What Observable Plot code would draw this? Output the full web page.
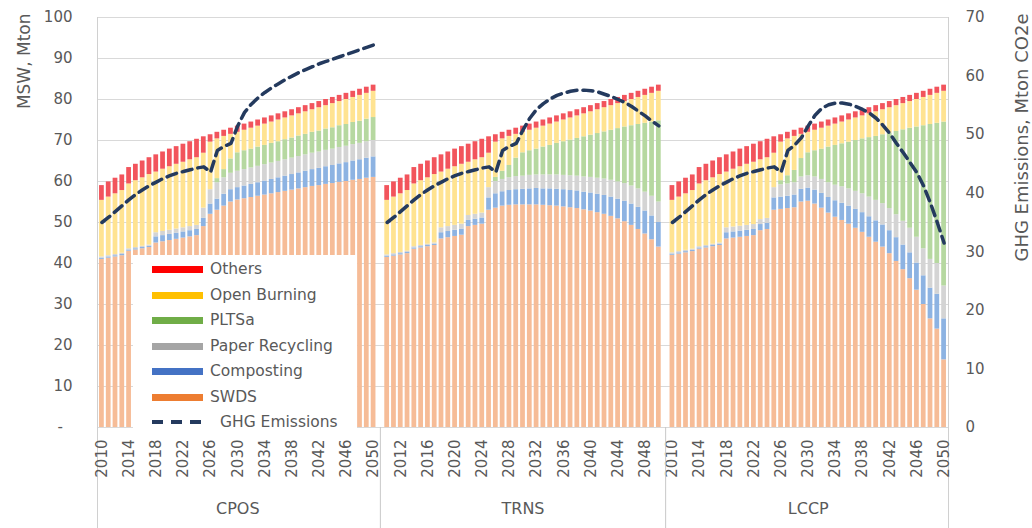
<!DOCTYPE html>
<html>
<head>
<meta charset="utf-8">
<script src="https://cdn.jsdelivr.net/npm/d3@7"></script>
<script src="https://cdn.jsdelivr.net/npm/@observablehq/plot@0.6"></script>
<style>
  html, body { margin: 0; padding: 0; background: #fff; }
  #wrap { position: relative; width: 1032px; height: 528px; }
  #legend { position: absolute; left: 133px; top: 255px; width: 224px; height: 174px; background: #fff;
            font-family: "DejaVu Sans", sans-serif; font-size: 15.5px; color: #595959; }
  .row { position: absolute; left: 0; height: 20px; display: flex; align-items: center; }
  .sw { width: 51px; height: 7px; margin-left: 19px; margin-right: 7px; }
</style>
</head>
<body>
<div id="wrap"><div id="legend"></div></div>
<script>
// ---------- categories ----------
const scenarios = ["CPOS", "TRNS", "LCCP"];
const years = d3.range(2010, 2051);
const types = ["SWDS", "Composting", "Paper Recycling", "PLTSa", "Open Burning", "Others"];
const leftTicks = [0, 10, 20, 30, 40, 50, 60, 70, 80, 90, 100];
const rightTicks = [0, 10, 20, 30, 40, 50, 60, 70];

// ---------- shared ----------
const others = [3.6,3.7,3.8,3.8,4.0,4.0,4.1,4.1,4.2,4.2,4.3,4.3,4.4,4.4,4.5,4.0,1.8,1.6,1.5,1.5,1.5,1.5,1.5,1.5,1.5,1.5,1.5,1.5,1.5,1.5,1.5,1.5,1.5,1.5,1.5,1.5,1.5,1.5,1.5,1.5,1.5];

// ---------- CPOS ----------
const cposSWDS = [41.0,41.3,41.6,41.9,43.0,43.3,43.6,43.9,45.0,45.3,45.6,45.9,46.2,46.5,46.8,49.0,52.0,53.0,54.0,55.0,55.5,55.8,56.1,56.4,56.7,57.0,57.3,57.6,57.9,58.2,58.5,58.8,59.0,59.3,59.5,59.8,60.0,60.3,60.5,60.8,61.0];
const cposComposting = [0.3,0.3,0.3,0.3,0.3,0.3,0.3,0.3,1.5,1.5,1.5,1.5,1.5,1.5,1.5,2.0,2.5,2.7,2.9,3.0,3.0,3.1,3.2,3.3,3.4,3.5,3.6,3.7,3.8,3.9,4.0,4.1,4.2,4.3,4.4,4.5,4.6,4.7,4.8,4.9,5.0];
const cposPaper = [0.3,0.3,0.3,0.3,0.3,0.3,0.3,0.3,1.0,1.0,1.0,1.0,1.0,1.0,1.0,2.5,3.5,4.0,4.0,4.0,4.0,4.0,4.0,4.0,4.0,4.0,4.0,4.0,4.0,4.0,4.0,4.0,4.0,4.0,4.0,4.0,4.0,4.0,4.0,4.0,4.0];
const cposPLTSa = [0,0,0,0,0,0,0,0,0,0,0,0,0,0,0,0,0,1.0,2.0,3.5,4.5,4.6,4.6,4.7,4.7,4.8,4.8,4.9,4.9,5.0,5.0,5.1,5.1,5.2,5.2,5.3,5.3,5.4,5.4,5.5,5.6];
const cposOpenBurning = [13.8,14.3,14.8,15.3,15.8,16.3,16.7,17.2,14.8,15.2,15.5,15.8,16.0,16.3,16.5,13.4,11.6,9.7,8.1,6.0,5.0,5.0,5.1,5.1,5.2,5.2,5.3,5.3,5.4,5.4,5.5,5.5,5.7,5.7,5.9,5.9,6.1,6.1,6.3,6.3,6.4];
const cposGHG = [35.0,35.9,36.9,37.9,38.9,39.8,40.6,41.3,41.9,42.5,43.0,43.4,43.7,44.0,44.3,44.5,43.6,47.3,48.0,48.5,51.5,53.8,55.2,56.3,57.2,58.0,58.7,59.4,60.0,60.6,61.1,61.6,62.1,62.5,62.9,63.3,63.7,64.1,64.5,64.9,65.3];

// ---------- TRNS ----------
const trnsSWDS = [41.5,41.8,42.1,42.4,43.5,43.8,44.1,44.4,46.0,46.3,46.6,46.9,49.0,49.3,49.6,53.0,53.5,54.0,54.2,54.3,54.3,54.3,54.3,54.2,54.1,54.0,53.8,53.6,53.4,53.1,52.8,52.4,52.0,51.5,50.9,50.2,49.3,48.3,47.2,45.8,44.0];
const trnsComposting = [0.3,0.3,0.3,0.3,0.3,0.3,0.3,0.3,1.5,1.5,1.5,1.5,1.5,1.5,1.5,3.0,3.5,3.5,3.6,3.7,3.8,3.9,4.0,4.0,4.1,4.1,4.2,4.2,4.3,4.3,4.4,4.5,4.6,4.7,4.8,5.0,5.2,5.4,5.6,5.8,6.0];
const trnsPaper = [0.3,0.3,0.3,0.3,0.3,0.3,0.3,0.3,1.2,1.2,1.2,1.2,1.2,1.2,1.2,2.5,3.0,3.0,3.1,3.2,3.2,3.3,3.3,3.4,3.4,3.5,3.5,3.6,3.6,3.7,3.8,3.9,4.0,4.1,4.2,4.3,4.4,4.5,4.6,4.8,5.0];
const trnsPLTSa = [0,0,0,0,0,0,0,0,0,0,0,0,0,0,0,0,1.0,2.0,3.0,4.5,5.7,6.0,6.3,6.8,7.2,7.7,8.2,8.7,9.2,9.8,10.3,10.9,11.5,12.2,13.0,13.8,14.7,15.7,16.8,18.1,19.8];
const trnsOpenBurning = [13.3,13.8,14.3,14.8,15.3,15.8,16.2,16.7,13.6,14.0,14.3,14.6,13.0,13.3,13.5,8.4,8.6,7.9,7.1,5.8,5.0,5.0,5.1,5.1,5.2,5.2,5.3,5.4,5.5,5.6,5.7,5.8,5.9,6.0,6.1,6.2,6.4,6.6,6.8,7.0,7.2];
const trnsGHG = [35.0,35.9,36.9,37.9,38.9,39.8,40.6,41.3,41.9,42.5,43.0,43.4,43.7,44.0,44.3,44.5,43.6,47.3,48.0,48.5,50.8,52.8,54.3,55.3,56.1,56.7,57.1,57.4,57.6,57.6,57.5,57.3,56.9,56.5,56.0,55.5,54.8,54.0,53.2,52.3,51.5];

// ---------- LCCP ----------
const lccpSWDS = [42.0,42.3,42.6,42.9,43.5,43.8,44.1,44.4,46.0,46.2,46.4,46.6,46.8,48.0,48.3,53.0,53.2,53.4,53.6,55.0,55.2,54.5,53.5,52.3,51.3,50.5,49.6,48.6,47.6,46.4,45.2,44.0,42.4,40.5,38.5,36.3,33.5,30.0,26.5,24.0,16.5];
const lccpComposting = [0.3,0.3,0.3,0.3,0.3,0.3,0.3,0.3,1.5,1.5,1.5,1.5,1.5,1.5,1.5,3.0,3.0,3.0,3.1,3.1,3.2,3.4,3.6,3.8,4.0,4.2,4.4,4.6,4.8,5.0,5.2,5.4,5.6,5.8,6.0,6.3,6.6,7.0,7.5,8.5,10.0];
const lccpPaper = [0.3,0.3,0.3,0.3,0.3,0.3,0.3,0.3,1.2,1.2,1.2,1.2,1.2,1.2,1.2,2.5,3.0,3.0,3.0,3.0,3.0,3.2,3.4,3.6,3.8,4.0,4.2,4.4,4.6,4.8,5.0,5.2,5.4,5.6,5.8,6.0,6.3,6.6,7.0,7.5,8.0];
const lccpPLTSa = [0,0,0,0,0,0,0,0,0,0,0,0,0,0,0,0,1.0,2.0,3.0,4.5,5.6,6.4,7.4,8.7,9.7,10.5,11.4,12.4,13.4,14.5,15.6,16.8,18.4,20.3,22.3,24.4,26.9,30.0,32.9,34.2,40.0];
const lccpOpenBurning = [12.8,13.3,13.8,14.3,15.3,15.8,16.2,16.7,13.6,14.1,14.5,14.9,15.2,14.6,14.8,8.4,9.4,9.0,8.3,5.9,5.0,5.0,5.1,5.1,5.2,5.3,5.4,5.5,5.6,5.8,6.0,6.1,6.2,6.3,6.4,6.5,6.7,6.9,7.1,7.3,7.5];
const lccpGHG = [35.0,35.9,36.9,37.9,38.9,39.8,40.6,41.3,41.9,42.5,43.0,43.4,43.7,44.0,44.3,44.5,43.6,47.3,48.2,49.5,51.5,53.3,54.5,55.1,55.4,55.4,55.2,54.8,54.3,53.7,52.8,51.6,50.2,48.5,46.9,45.2,43.5,41.2,38.3,35.0,31.5];

// ---------- assemble ----------
const series = {
  CPOS: {SWDS: cposSWDS, Composting: cposComposting, "Paper Recycling": cposPaper, PLTSa: cposPLTSa, "Open Burning": cposOpenBurning, Others: others},
  TRNS: {SWDS: trnsSWDS, Composting: trnsComposting, "Paper Recycling": trnsPaper, PLTSa: trnsPLTSa, "Open Burning": trnsOpenBurning, Others: others},
  LCCP: {SWDS: lccpSWDS, Composting: lccpComposting, "Paper Recycling": lccpPaper, PLTSa: lccpPLTSa, "Open Burning": lccpOpenBurning, Others: others}
};
const ghg = {CPOS: cposGHG, TRNS: trnsGHG, LCCP: lccpGHG};

const barColors = {SWDS: "#F6BC97", Composting: "#8DB3E2", "Paper Recycling": "#D4D4D4", PLTSa: "#B6D8A0", "Open Burning": "#FFE391", Others: "#F2545C"};
const legendColors = {SWDS: "#ED7D31", Composting: "#4472C4", "Paper Recycling": "#A5A5A5", PLTSa: "#70AD47", "Open Burning": "#FFC000", Others: "#FF0000"};
const lineColor = "#243A5E";

const keyOf = (s, y) => s + " " + y;
const domain = [];
const gapKeys = [];
scenarios.forEach((s, i) => {
  years.forEach(y => domain.push(keyOf(s, y)));
  if (i < scenarios.length - 1) { const g = "gap" + i; domain.push(g); gapKeys.push(g); }
});
const xTicks = domain.filter((k, i) => i % 4 === 0);

const bars = [];
scenarios.forEach(s => years.forEach((y, j) => types.forEach(t =>
  bars.push({key: keyOf(s, y), type: t, value: series[s][t][j]}))));
const lines = [];
scenarios.forEach(s => years.forEach((y, j) => lines.push({key: keyOf(s, y), scenario: s, ghg: ghg[s][j]})));

const toLeft = v => v * 100 / 70;   // right axis (0–70) onto the left scale (0–100)

const chart = Plot.plot({
  width: 1032, height: 528,
  marginLeft: 97, marginRight: 84, marginTop: 17, marginBottom: 101,
  style: {fontFamily: "DejaVu Sans, sans-serif", fontSize: "15px", color: "#595959", background: "#fff"},
  x: {type: "band", domain, padding: 0.3, label: null, axis: null},
  y: {domain: [0, 100], label: null, axis: null},
  marks: [
    Plot.gridY(leftTicks.slice(1), {stroke: "#D9D9D9", strokeOpacity: 1}),
    Plot.ruleY([0], {stroke: "#D9D9D9"}),
    Plot.barY(bars, {x: "key", y: "value", fill: d => barColors[d.type]}),
    Plot.line(lines, {x: "key", y: d => toLeft(d.ghg), z: "scenario", stroke: lineColor, strokeWidth: 3.5, strokeDasharray: "10,6"}),
    Plot.frame({anchor: "left", stroke: "#D0D0D0", insetBottom: -101}),
    Plot.frame({anchor: "right", stroke: "#D0D0D0", insetBottom: -101}),
    Plot.axisY({ticks: leftTicks, tickSize: 0, tickPadding: 25, label: null,
      tickFormat: d => d === 0 ? "-\u00a0\u00a0" : String(d)}),
    Plot.axisY({anchor: "right", ticks: rightTicks.map(toLeft), tickSize: 0, tickPadding: 17, label: null,
      tickFormat: d => String(Math.round(d * 70 / 100))}),
    Plot.axisX({ticks: xTicks, tickSize: 0, tickPadding: 12, tickRotate: -90, label: null,
      tickFormat: k => k.split(" ")[1]}),
    Plot.axisX({ticks: gapKeys, tickSize: 101, stroke: "#C8C8C8", tickFormat: () => "", label: null}),
    Plot.text(scenarios, {x: s => keyOf(s, 2030), frameAnchor: "bottom", dy: 86, text: d => d, fontSize: 16, fill: "#595959"}),
    Plot.text(["MSW, Mton"], {frameAnchor: "top-left", dx: -80, dy: -4, rotate: -90, textAnchor: "end", fontSize: 17, fill: "#595959"}),
    Plot.text(["GHG Emissions, Mton CO2e"], {frameAnchor: "top-right", dx: 67, dy: -4, rotate: -90, textAnchor: "end", fontSize: 18, fill: "#595959"})
  ]
});
const wrap = document.getElementById("wrap");
wrap.insertBefore(chart, wrap.firstChild);

// ---------- legend (overlaid inside the plot area, as in the reference) ----------
const legend = document.getElementById("legend");
const legendItems = types.slice().reverse();
const rowTops = [4, 30, 55, 81, 106, 132, 157];
legendItems.forEach((t, i) => {
  const row = document.createElement("div");
  row.className = "row";
  row.style.top = rowTops[i] + "px";
  const sw = document.createElement("div");
  sw.className = "sw";
  sw.style.background = legendColors[t];
  const label = document.createElement("span");
  label.textContent = t;
  row.append(sw, label);
  legend.append(row);
});
{
  const row = document.createElement("div");
  row.className = "row";
  row.style.top = rowTops[6] + "px";
  row.innerHTML = `<svg width="80" height="10" style="margin-left:19px"><line x1="0" y1="5" x2="50" y2="5" stroke="${lineColor}" stroke-width="4" stroke-dasharray="11,8"/></svg><span style="margin-left:-12px">GHG Emissions</span>`;
  legend.append(row);
}
</script>
</body>
</html>
